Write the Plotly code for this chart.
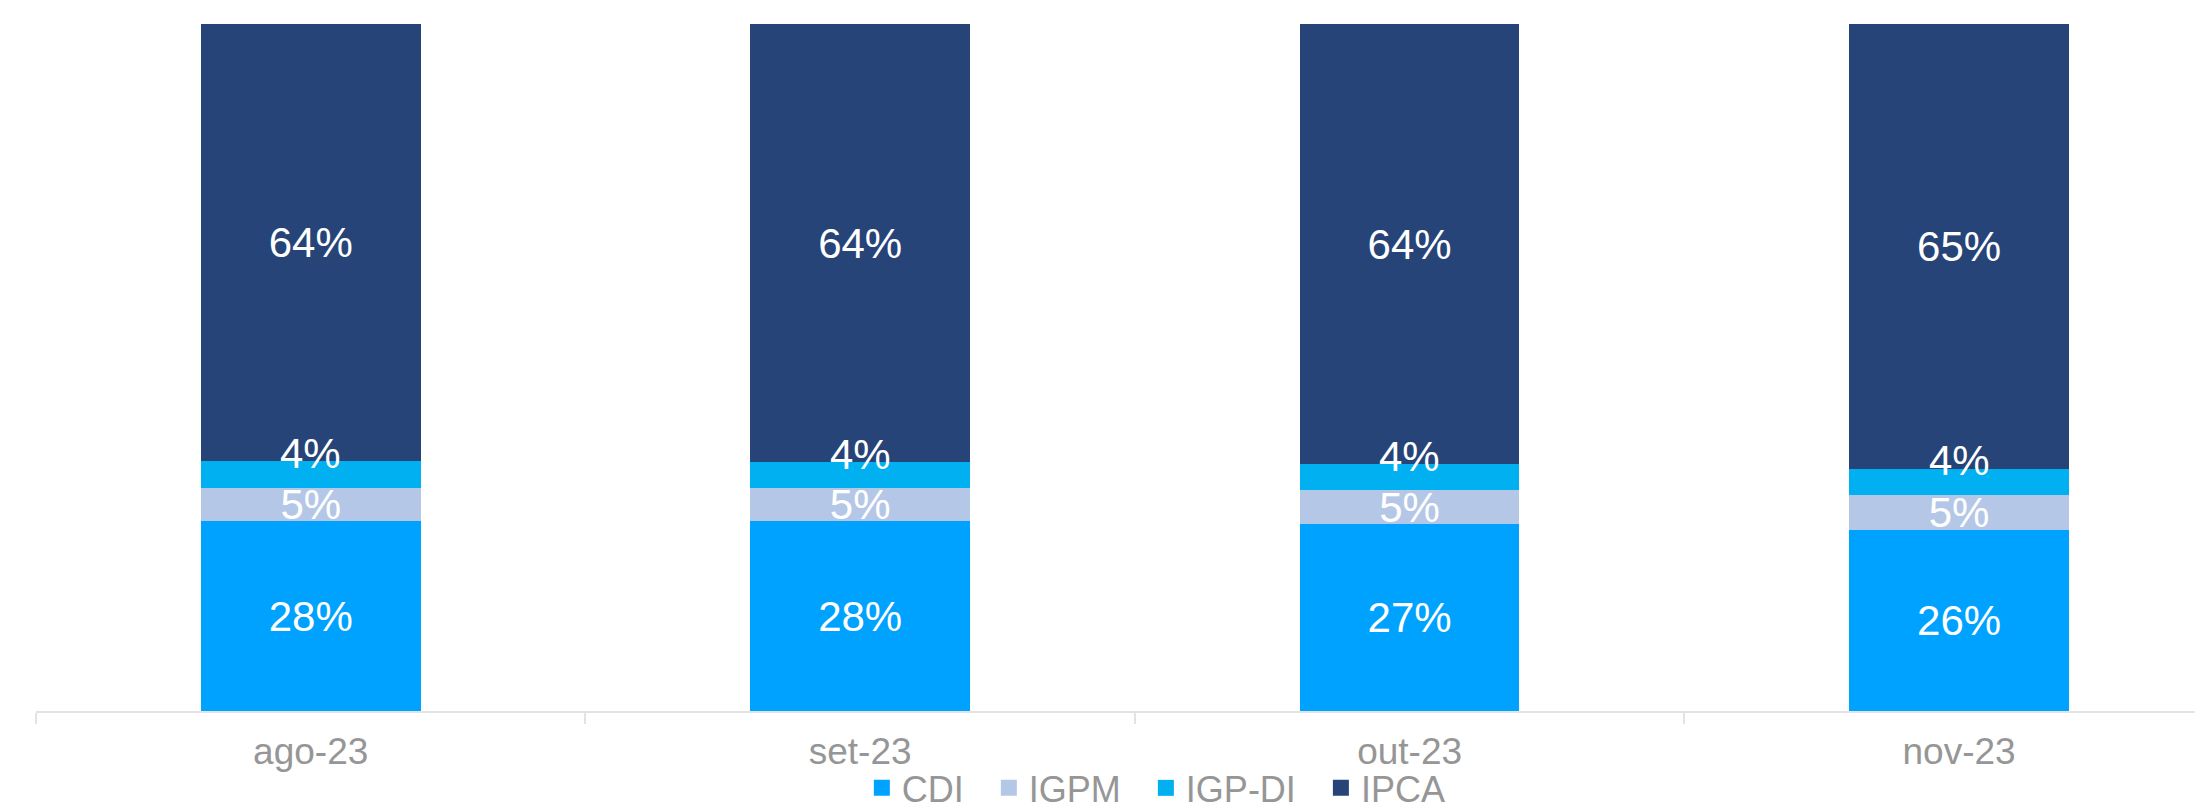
import plotly.graph_objects as go

categories = ["ago-23", "set-23", "out-23", "nov-23"]
cdi = [27.6, 27.6, 27.2, 26.4]
igpm = [4.9, 4.8, 4.9, 5.1]
igpdi = [3.9, 3.8, 3.8, 3.7]
ipca = [63.6, 63.8, 64.1, 64.8]

series = [
    ("CDI", cdi, "#00A2FF"),
    ("IGPM", igpm, "#B4C7E7"),
    ("IGP-DI", igpdi, "#00B0F0"),
    ("IPCA", ipca, "#264478"),
]

FONT = "Arial, Liberation Sans, sans-serif"
LBL = 42
fig = go.Figure()
for name, vals, color in series:
    show_text = name != "IGP-DI"
    fig.add_trace(go.Bar(
        name=name, x=categories, y=vals,
        marker=dict(color=color, line=dict(width=0)),
        text=[f"{v:.0f}%" for v in vals] if show_text else None,
        textposition="inside" if show_text else "none",
        insidetextanchor="middle",
        textfont=dict(color="white", size=LBL, family=FONT),
        hoverinfo="skip", showlegend=False,
    ))

# legend proxies with larger square symbols (extra spacing after each entry)
for k, (name, vals, color) in enumerate(series):
    pad = "\u00a0\u00a0" if k < len(series) - 1 else ""
    fig.add_trace(go.Scatter(
        name=name + pad, x=[None], y=[None], mode="markers",
        marker=dict(symbol="square", size=18, color=color),
        showlegend=True, hoverinfo="skip",
    ))

# IGP-DI labels (placed slightly above segment centre as in reference)
for i, c in enumerate(categories):
    ymid = cdi[i] + igpm[i] + igpdi[i] / 2
    fig.add_annotation(x=c, y=ymid, text=f"{igpdi[i]:.0f}%", showarrow=False,
                       yshift=21, font=dict(color="white", size=LBL, family=FONT))

fig.update_layout(
    barmode="stack",
    bargap=0.6,
    width=2195, height=804,
    margin=dict(l=28, r=0, t=16, b=101, autoexpand=False),
    plot_bgcolor="white", paper_bgcolor="white",
    uniformtext=dict(minsize=LBL, mode="show"),
    font=dict(family=FONT, color="#969696", size=36),
    legend=dict(orientation="h", x=0.517, xanchor="center", y=-0.112, yanchor="middle",
                bgcolor="rgba(0,0,0,0)",
                font=dict(size=36, color="#969696", family=FONT), traceorder="normal",
                itemclick=False, itemsizing="trace"),
    showlegend=True,
)
fig.update_xaxes(
    range=[-0.5, 3.444], showline=True, linecolor="#E3E3E3", linewidth=2,
    ticks="outside", tickson="boundaries", ticklen=11, tickcolor="#E3E3E3", tickwidth=2,
    ticklabelstandoff=7, automargin=False,
    tickfont=dict(size=37, color="#969696", family=FONT), showgrid=False,
)
fig.update_yaxes(range=[0, 100], visible=False, showgrid=False)

fig.write_html("out.html")
